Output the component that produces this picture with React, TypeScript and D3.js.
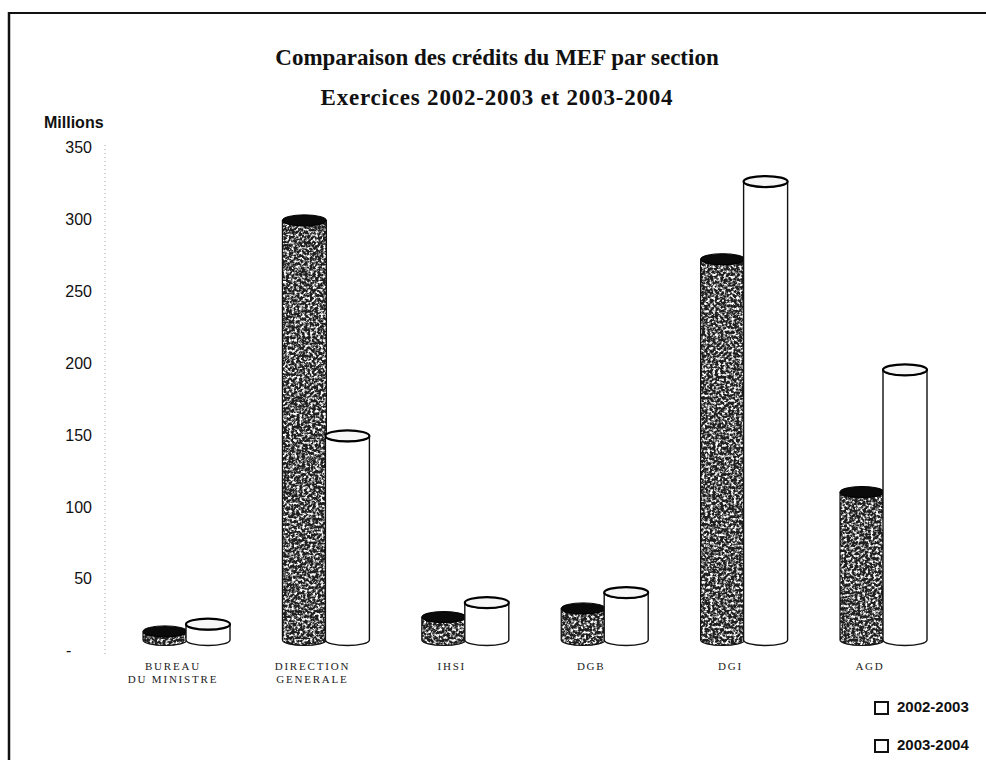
import React from "react";
import * as d3 from "d3";

const categories = ["BUREAU\nDU MINISTRE", "DIRECTION\nGENERALE", "IHSI", "DGB", "DGI", "AGD"];
const series2002 = [6, 292, 16, 22, 265, 103];
const series2003 = [11, 142, 26, 33, 319, 188];
const seriesNames = ["2002-2003", "2003-2004"];
const yTicks = [0, 50, 100, 150, 200, 250, 300, 350];
const titleLines = ["Comparaison des crédits du MEF par section", "Exercices 2002-2003 et 2003-2004"];

const W = 986;
const H = 760;
const serif = "'Liberation Serif', 'Times New Roman', serif";
const sans = "'Liberation Sans', Arial, sans-serif";

export default function App() {
  const y = d3.scaleLinear().domain([0, 350]).range([652, 149]);
  const x = d3.scalePoint<string>().domain(categories).range([187, 884]);
  const floorShift = 12;
  const rx = 22;
  const ry = 5.5;

  const body = (cx: number, yt: number, yb: number) =>
    `M${cx - rx},${yt} L${cx - rx},${yb} A${rx},${ry} 0 0 0 ${cx + rx},${yb} L${cx + rx},${yt} A${rx},${ry} 0 0 1 ${cx - rx},${yt} Z`;

  const cylinder = (key: string, cx: number, v: number, dark: boolean) => {
    const yt = y(v) - floorShift;
    const yb = y(0) - floorShift;
    const d = body(cx, yt, yb);
    if (dark) {
      return (
        <g key={key}>
          <path d={d} fill="#1e1e1e" />
          <path d={d} fill="#ffffff" filter="url(#speckle)" />
          <path d={d} fill="none" stroke="#111" strokeWidth={1.2} />
          <ellipse cx={cx} cy={yt} rx={rx} ry={ry} fill="#0a0a0a" stroke="#000" strokeWidth={1} />
        </g>
      );
    }
    return (
      <g key={key}>
        <path d={d} fill="#ffffff" stroke="#111" strokeWidth={1.4} />
        <ellipse cx={cx} cy={yt} rx={rx} ry={ry} fill="#f6f6f6" stroke="#000" strokeWidth={2.2} />
      </g>
    );
  };

  return (
    <svg
      width={W}
      height={H}
      viewBox={`0 0 ${W} ${H}`}
      style={{ position: "absolute", left: 0, top: 0, background: "#fff" }}
    >
      <defs>
        <filter id="speckle" filterUnits="userSpaceOnUse" x={0} y={0} width={W} height={H}>
          <feTurbulence type="fractalNoise" baseFrequency="0.38" numOctaves={3} seed={11} result="noise" />
          <feColorMatrix
            in="noise"
            type="matrix"
            values="0 0 0 0 1  0 0 0 0 1  0 0 0 0 1  3.6 0 0 0 -1.55"
            result="spots"
          />
          <feComposite in="spots" in2="SourceGraphic" operator="in" />
        </filter>
      </defs>

      {/* frame */}
      <line x1={9} y1={13} x2={W} y2={13} stroke="#111" strokeWidth={2} />
      <line x1={9} y1={12} x2={9} y2={H} stroke="#111" strokeWidth={2.5} />

      {/* title */}
      {titleLines.map((t, i) => (
        <text
          key={t}
          x={497}
          y={65 + i * 40}
          textAnchor="middle"
          fontFamily={serif}
          fontWeight="bold"
          fontSize={i === 0 ? 23 : 23}
          letterSpacing={i === 0 ? 0 : 0.8}
          fill="#111"
        >
          {t}
        </text>
      ))}

      {/* y axis */}
      <text x={44} y={128} fontFamily={sans} fontWeight="bold" fontSize={16} fill="#111">
        Millions
      </text>
      <line x1={105} y1={y(350) - 4} x2={105} y2={y(0) + 3} stroke="#aaa" strokeWidth={1} strokeDasharray="1 3" />
      {yTicks.map((t) => (
        <text
          key={t}
          x={t === 0 ? 66 : 92}
          y={y(t)}
          textAnchor={t === 0 ? "start" : "end"}
          dominantBaseline="middle"
          fontFamily={sans}
          fontSize={16}
          fill="#111"
        >
          {t === 0 ? "-" : String(t)}
        </text>
      ))}

      {/* cylinders */}
      {categories.map((c, i) => {
        const gx = x(c) as number;
        return (
          <g key={c}>
            {cylinder(c + "a", gx - rx, series2002[i], true)}
            {cylinder(c + "b", gx + rx - 1, series2003[i], false)}
          </g>
        );
      })}

      {/* category labels */}
      {categories.map((c) => {
        const gx = x(c) as number;
        const lines = c.split("\n");
        return (
          <text
            key={"lab" + c}
            x={gx - 14}
            y={670}
            textAnchor="middle"
            fontFamily={serif}
            fontSize={11}
            letterSpacing={1.8}
            fill="#222"
          >
            {lines.map((l, j) => (
              <tspan key={l} x={gx - 14} dy={j === 0 ? 0 : 13}>
                {l}
              </tspan>
            ))}
          </text>
        );
      })}

      {/* legend */}
      {seriesNames.map((s, i) => (
        <g key={s}>
          <rect x={875} y={702 + i * 38} width={13} height={12} fill="#fff" stroke="#111" strokeWidth={2} />
          <text
            x={897}
            y={708 + i * 38}
            dominantBaseline="middle"
            fontFamily={sans}
            fontWeight="bold"
            fontSize={15}
            fill="#111"
          >
            {s}
          </text>
        </g>
      ))}
    </svg>
  );
}
